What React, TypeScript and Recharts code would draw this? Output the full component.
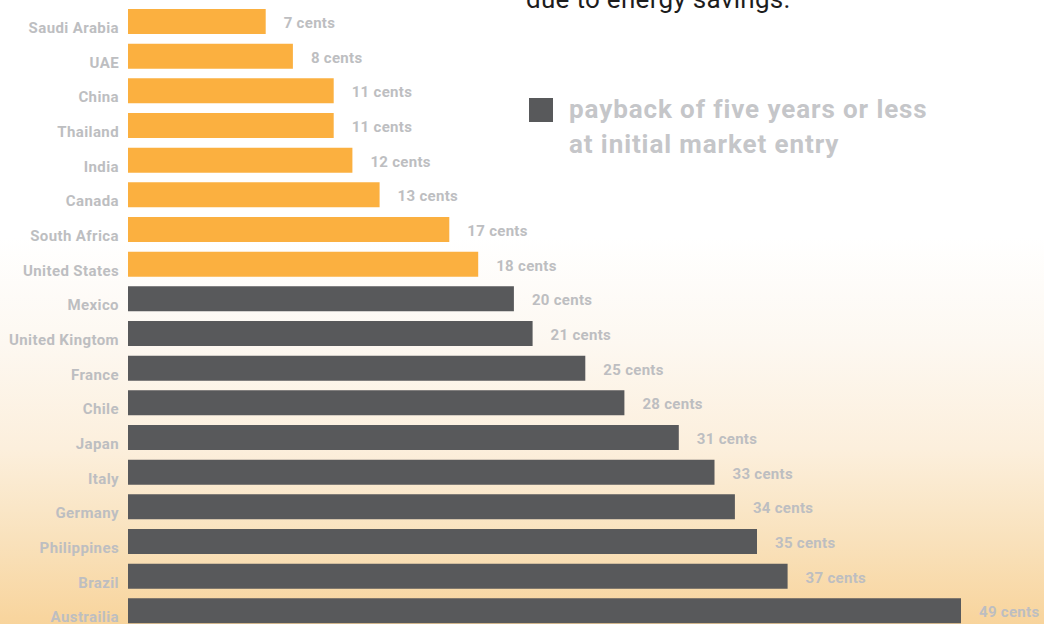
import React from 'react';
import { BarChart, Bar, XAxis, YAxis, Cell, LabelList } from 'recharts';

const countries = [
  'Saudi Arabia', 'UAE', 'China', 'Thailand', 'India', 'Canada', 'South Africa', 'United States',
  'Mexico', 'United Kingtom', 'France', 'Chile', 'Japan', 'Italy', 'Germany', 'Philippines',
  'Brazil', 'Austrailia',
];

// bar lengths as drawn in the graphic
const barValues = [8.1, 9.7, 12.1, 12.1, 13.2, 14.8, 18.9, 20.6, 22.7, 23.8, 26.9, 29.2, 32.4, 34.5, 35.7, 37.0, 38.8, 49.0];

// printed cost labels (cents)
const centLabels = [7, 8, 11, 11, 12, 13, 17, 18, 20, 21, 25, 28, 31, 33, 34, 35, 37, 49];

const paybackFiveYears = [
  false, false, false, false, false, false, false, false,
  true, true, true, true, true, true, true, true, true, true,
];

const legendLines = ['payback of five years or less', 'at initial market entry'];
const headline = 'due to energy savings.';

const ORANGE = '#FBB040';
const GREY = '#58595B';
const LABEL = '#BDBEC1';
const FONT = 'Roboto, "Open Sans", sans-serif';

const data = countries.map((name, i) => ({
  name,
  value: barValues[i],
  cents: centLabels[i],
  fast: paybackFiveYears[i],
}));

const CountryTick = (props: any) => {
  const { y, payload } = props;
  return (
    <text
      x={119}
      y={y + 11.5}
      textAnchor="end"
      fill={LABEL}
      fontSize={15}
      fontWeight={700}
      fontFamily={FONT}
      letterSpacing={0.4}
    >
      {payload.value}
    </text>
  );
};

const CentsLabel = (props: any) => {
  const { x, y, width, height, value } = props;
  return (
    <text
      x={x + width + 18}
      y={y + height / 2 + 6.5}
      fill={LABEL}
      fontSize={15}
      fontWeight={700}
      fontFamily={FONT}
      letterSpacing={0.3}
    >
      {value} cents
    </text>
  );
};

const PaybackLegend = () => (
  <div style={{ position: 'absolute', left: 529, top: 98, fontFamily: FONT }}>
    <div style={{ position: 'absolute', left: 0, top: 0, width: 24, height: 24, background: GREY }} />
    {legendLines.map((line, i) => (
      <div
        key={line}
        style={{
          position: 'absolute',
          left: 40,
          top: -4 + i * 35,
          fontSize: 26,
          lineHeight: '30px',
          fontWeight: 700,
          letterSpacing: 0.9,
          color: '#C5C6C9',
          whiteSpace: 'nowrap',
        }}
      >
        {line}
      </div>
    ))}
  </div>
);

export default function App() {
  return (
    <div
      style={{
        position: 'absolute',
        left: 0,
        top: 0,
        width: 1044,
        height: 624,
        overflow: 'hidden',
        background:
          'linear-gradient(to bottom, #ffffff 0%, #ffffff 38%, #fdf8f1 55%, #fcefdc 72%, #f9e2bd 86%, #f8d49c 100%)',
      }}
    >
      <div
        style={{
          position: 'absolute',
          left: 526,
          top: -16,
          fontFamily: FONT,
          fontSize: 26,
          lineHeight: '30px',
          letterSpacing: 0.3,
          color: '#1d1d1d',
          whiteSpace: 'nowrap',
        }}
      >
        {headline}
      </div>
      <BarChart
        width={1044}
        height={632}
        data={data}
        layout="vertical"
        margin={{ top: 4, right: 66, left: 0, bottom: 4 }}
        barSize={25}
        style={{ position: 'absolute', left: 0, top: 0 }}
      >
        <XAxis type="number" domain={[0, 50]} hide />
        <YAxis
          type="category"
          dataKey="name"
          width={128}
          axisLine={false}
          tickLine={false}
          interval={0}
          tick={CountryTick}
        />
        <Bar dataKey="value" isAnimationActive={false}>
          {data.map((d) => (
            <Cell key={d.name} fill={d.fast ? GREY : ORANGE} />
          ))}
          <LabelList dataKey="cents" content={CentsLabel} />
        </Bar>
      </BarChart>
      <PaybackLegend />
    </div>
  );
}
